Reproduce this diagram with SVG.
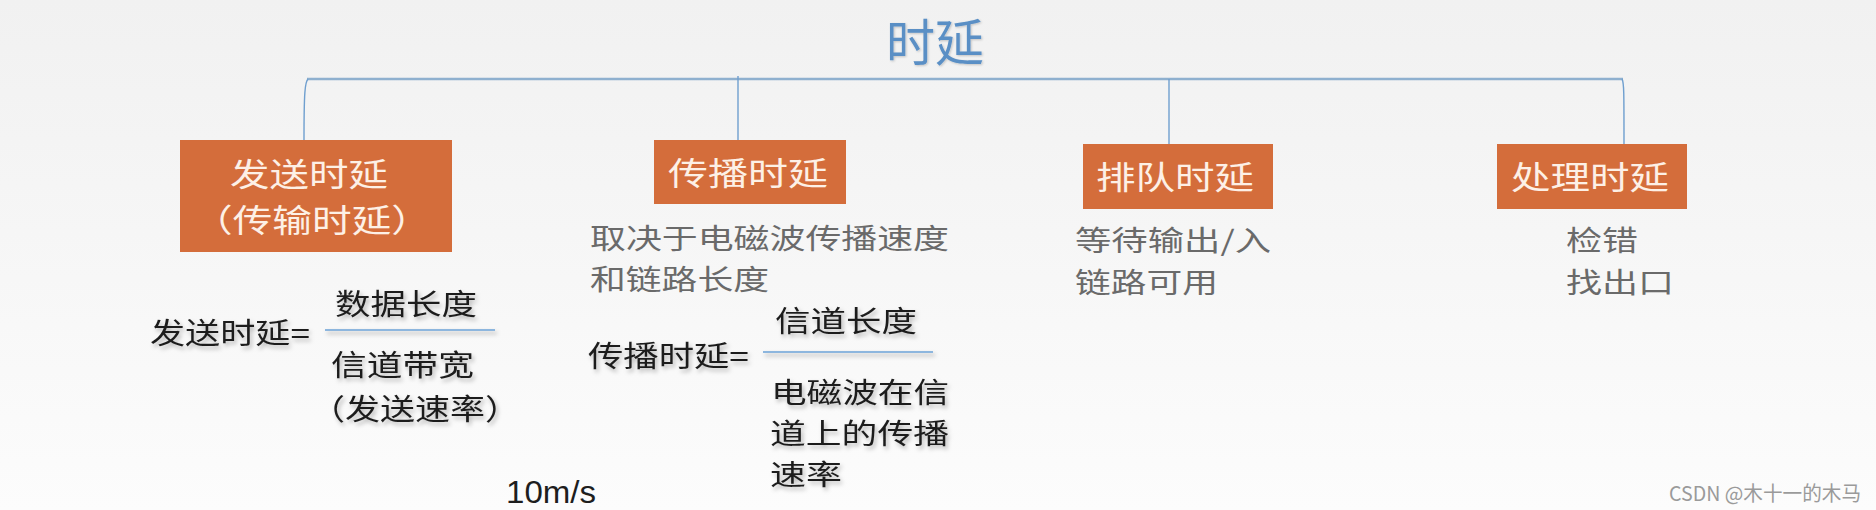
<svg xmlns="http://www.w3.org/2000/svg" width="1876" height="510" viewBox="0 0 1876 510">
  <defs>
    <linearGradient id="bg" x1="0" y1="0" x2="0" y2="1">
      <stop offset="0" stop-color="#f1f1f1"/>
      <stop offset="1" stop-color="#fcfcfc"/>
    </linearGradient>
    <filter id="shadow" x="-10%" y="-20%" width="130%" height="160%">
      <feDropShadow dx="2" dy="3" stdDeviation="2" flood-color="#000" flood-opacity="0.28"/>
    </filter>
    <filter id="soft" x="-10%" y="-20%" width="130%" height="160%">
      <feDropShadow dx="1" dy="1" stdDeviation="1" flood-color="#000" flood-opacity="0.2"/>
    </filter>
  </defs>
  <style>
    .cjk { font-family: "Noto Sans CJK SC", "Noto Sans", sans-serif; }
    .box { fill: #d46d3b; }
    .boxtxt { fill: #fdf0e6; font-size: 32px; }
    .note { fill: #6a6a6a; font-size: 28px; }
    .formula { fill: #1e1e1e; font-size: 29px; }
    .formula2 { fill: #1e1e1e; font-size: 28px; }
    .frac { stroke: #8db6de; stroke-width: 2; }
    .trunk { stroke: #8fb0cf; stroke-width: 2.5; fill: none; }
    .branch { stroke: #6f9fcf; stroke-width: 1.4; fill: none; }
  </style>
  <rect x="0" y="0" width="1876" height="510" fill="url(#bg)"/>

  <g id="title">
    <text class="cjk" x="935" y="61" font-size="50" fill="#5a8fc5" text-anchor="middle" textLength="98" lengthAdjust="spacingAndGlyphs" filter="url(#soft)">时延</text>
  </g>

  <g id="connectors">
    <line class="trunk" x1="307" y1="79" x2="1623" y2="79"/>
    <path class="branch" d="M308,79 C305,82 304,92 304,140"/>
    <line class="branch" x1="738" y1="76" x2="738" y2="140"/>
    <line class="branch" x1="1169" y1="79" x2="1169" y2="144"/>
    <path class="branch" d="M1622,79 C1624,82 1624,92 1624,144"/>
  </g>

  <g id="node-send">
    <rect class="box" x="180" y="140" width="272" height="112"/>
    <text class="cjk boxtxt" text-anchor="middle"><tspan x="309" y="186" textLength="158" lengthAdjust="spacingAndGlyphs">发送时延</tspan><tspan x="312" y="232" textLength="238" lengthAdjust="spacingAndGlyphs">（传输时延）</tspan></text>
  </g>

  <g id="node-prop">
    <rect class="box" x="654" y="140" width="192" height="64"/>
    <text class="cjk boxtxt" x="748" y="185" text-anchor="middle" textLength="160" lengthAdjust="spacingAndGlyphs">传播时延</text>
  </g>

  <g id="node-queue">
    <rect class="box" x="1083" y="144" width="190" height="65"/>
    <text class="cjk boxtxt" x="1175" y="189" text-anchor="middle" textLength="158" lengthAdjust="spacingAndGlyphs">排队时延</text>
  </g>

  <g id="node-proc">
    <rect class="box" x="1497" y="144" width="190" height="65"/>
    <text class="cjk boxtxt" x="1590" y="189" text-anchor="middle" textLength="158" lengthAdjust="spacingAndGlyphs">处理时延</text>
  </g>

  <g id="note-prop">
    <text class="cjk note"><tspan x="590" y="249" textLength="359" lengthAdjust="spacingAndGlyphs">取决于电磁波传播速度</tspan><tspan x="590" y="290" textLength="179" lengthAdjust="spacingAndGlyphs">和链路长度</tspan></text>
  </g>

  <g id="note-queue">
    <text class="cjk note"><tspan x="1075" y="251" textLength="196" lengthAdjust="spacingAndGlyphs">等待输出/入</tspan><tspan x="1075" y="293" textLength="143" lengthAdjust="spacingAndGlyphs">链路可用</tspan></text>
  </g>

  <g id="note-proc">
    <text class="cjk note"><tspan x="1566" y="251" textLength="72" lengthAdjust="spacingAndGlyphs">检错</tspan><tspan x="1566" y="293" textLength="108" lengthAdjust="spacingAndGlyphs">找出口</tspan></text>
  </g>

  <g id="formula-send" filter="url(#shadow)">
    <text class="cjk formula" x="150" y="344" textLength="160" lengthAdjust="spacingAndGlyphs">发送时延=</text>
    <text class="cjk formula" x="335" y="315" textLength="142" lengthAdjust="spacingAndGlyphs">数据长度</text>
    <line class="frac" x1="325" y1="330" x2="495" y2="330"/>
    <text class="cjk formula"><tspan x="331" y="376" textLength="143" lengthAdjust="spacingAndGlyphs">信道带宽</tspan><tspan x="310" y="420" textLength="210" lengthAdjust="spacingAndGlyphs">（发送速率）</tspan></text>
  </g>

  <g id="formula-prop" filter="url(#shadow)">
    <text class="cjk formula" x="588" y="367" textLength="161" lengthAdjust="spacingAndGlyphs">传播时延=</text>
    <text class="cjk formula" x="775" y="332" textLength="142" lengthAdjust="spacingAndGlyphs">信道长度</text>
    <line class="frac" x1="763" y1="352" x2="933" y2="352"/>
    <text class="cjk formula2"><tspan x="771" y="403" textLength="178" lengthAdjust="spacingAndGlyphs">电磁波在信</tspan><tspan x="770" y="444" textLength="179" lengthAdjust="spacingAndGlyphs">道上的传播</tspan><tspan x="770" y="485" textLength="72" lengthAdjust="spacingAndGlyphs">速率</tspan></text>
  </g>

  <g id="speed-label">
    <text x="506" y="503" font-family="Liberation Sans, Arial, sans-serif" font-size="31" fill="#1e1e1e" textLength="90" lengthAdjust="spacingAndGlyphs">10m/s</text>
  </g>

  <g id="watermark">
    <text class="cjk" x="1669" y="501" font-size="20" fill="#9a9a9a" textLength="192" lengthAdjust="spacingAndGlyphs">CSDN @木十一的木马</text>
  </g>
</svg>
